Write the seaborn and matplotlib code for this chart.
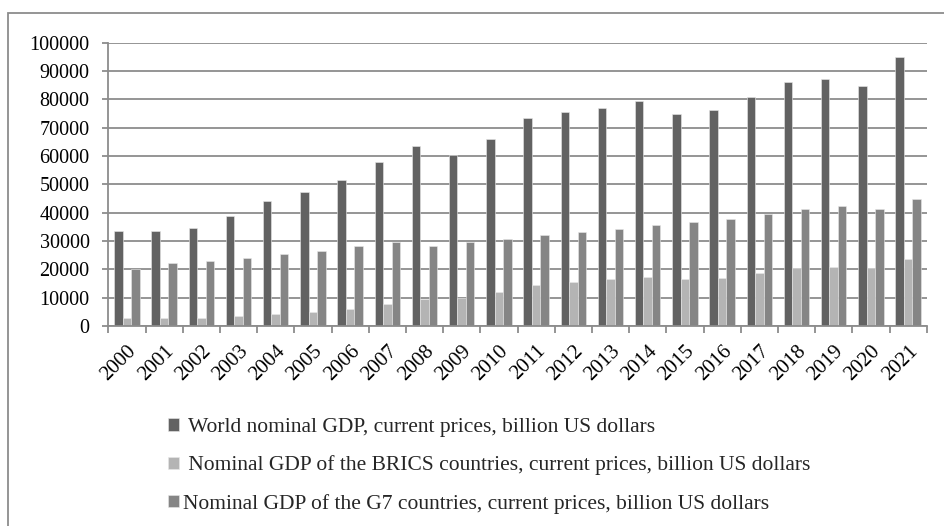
import matplotlib
matplotlib.use("Agg")
import matplotlib.pyplot as plt
import seaborn as sns
import pandas as pd
from matplotlib.patches import Rectangle

years = [str(y) for y in range(2000, 2022)]
world = [33700, 33500, 34700, 38900, 44000, 47300, 51400, 58000, 63600, 60400, 66100,
         73400, 75400, 77000, 79300, 74800, 76100, 80900, 86000, 87300, 84700, 95000]
brics = [2700, 2800, 3000, 3400, 4100, 4900, 6000, 7700, 9600, 10000, 11900,
         14500, 15500, 16700, 17400, 16600, 16800, 18800, 20500, 20900, 20500, 23500]
g7 = [20000, 22200, 23000, 23900, 25300, 26500, 28100, 29600, 28200, 29500, 30700,
      32000, 33100, 34300, 35500, 36600, 37900, 39400, 41200, 42400, 41300, 44700]
series_names = [
    "World nominal GDP, current prices, billion US dollars",
    "Nominal GDP of the BRICS countries, current prices, billion US dollars",
    "Nominal GDP of the G7 countries, current prices, billion US dollars",
]
legend_labels = [" " + series_names[0], " " + series_names[1], series_names[2]]
colors = ["#626262", "#b4b4b4", "#858585"]
yticks = list(range(0, 100001, 10000))

df = pd.DataFrame({
    "Year": years * 3,
    "Series": [series_names[0]] * 22 + [series_names[1]] * 22 + [series_names[2]] * 22,
    "Value": world + brics + g7,
})

sns.set_theme(style="white")
plt.rcParams["font.family"] = ["Liberation Serif", "DejaVu Serif"]

fig = plt.figure(figsize=(9.44, 5.26), dpi=100)
ax = fig.add_axes([108.3 / 944, 1 - 326 / 526, (926.7 - 108.3) / 944, (326 - 42.7) / 526])

sns.barplot(data=df, x="Year", y="Value", hue="Series", hue_order=series_names,
            palette=colors, width=0.68, ax=ax, saturation=1,
            edgecolor="#e8e8e8", linewidth=0.4, legend=True)

ax.set_ylim(0, 100000)
ax.set_xlim(-0.5, 21.5)
ax.set_yticks(yticks)
ax.set_yticklabels([str(v) for v in yticks], fontsize=14.5, color="black")
ax.yaxis.grid(True, color="#8c8c8c", linewidth=1.3)
ax.set_axisbelow(True)
ax.set_xlabel("")
ax.set_ylabel("")
for s in ["top", "right"]:
    ax.spines[s].set_visible(False)
for s in ["left", "bottom"]:
    ax.spines[s].set_color("#8c8c8c")
    ax.spines[s].set_linewidth(1.3)

ax.set_xticks(range(22))
ax.set_xticklabels(years, rotation=45, ha="right", va="top",
                   rotation_mode="anchor", fontsize=15, color="black")
ax.tick_params(axis="x", which="major", length=0, pad=11)
ax.set_xticks([i - 0.5 for i in range(23)], minor=True)
ax.tick_params(axis="x", which="minor", length=4.8, color="#8c8c8c", width=1.3, bottom=True)
ax.tick_params(axis="y", length=4.5, color="#8c8c8c", width=1.3, left=True, pad=9)

handles, _ = ax.get_legend_handles_labels()
ax.get_legend().remove()
fig.legend(handles, legend_labels, loc="upper left",
           bbox_to_anchor=(168 / 944, 1 - 418 / 526), frameon=False,
           fontsize=15.5, handlelength=0.51, handleheight=0.51,
           handletextpad=0.2, labelspacing=0.86, borderpad=0, borderaxespad=0)

fig.patches.append(Rectangle((8 / 944, -0.1), 1.2, 1.1 - 13 / 526,
                             transform=fig.transFigure, fill=False,
                             edgecolor="#8c8c8c", linewidth=1.3, zorder=0))

fig.savefig("out.png", dpi=100)
